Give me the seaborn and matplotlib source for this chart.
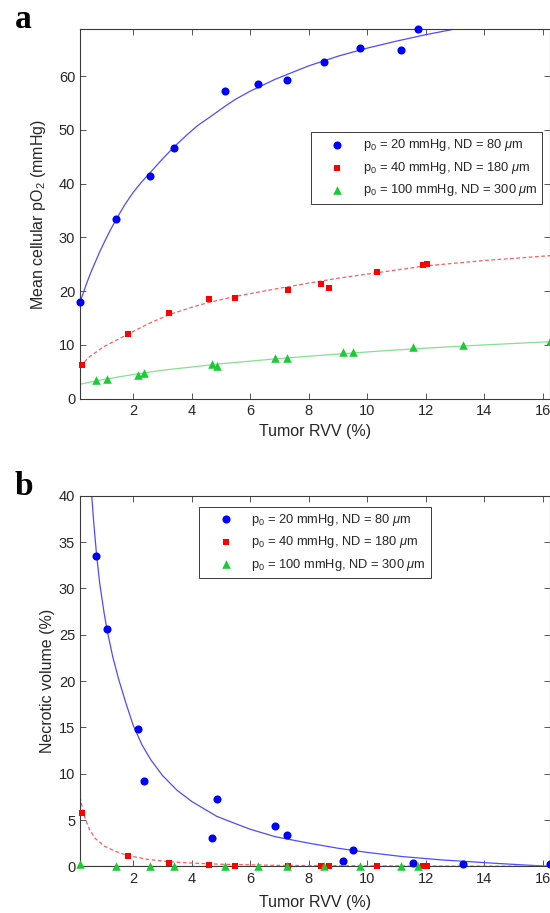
import matplotlib
matplotlib.use("Agg")
import matplotlib.pyplot as plt
import seaborn as sns

# ---- measured data -------------------------------------------------------
# RVV sample sets (tumor relative vascular volume, %)
rvv_set1 = [0.18, 1.41, 2.57, 3.39, 5.14, 6.28, 7.25, 8.53, 9.76, 11.16, 11.75]
rvv_set2 = [0.26, 1.82, 3.21, 4.58, 5.47, 7.28, 8.43, 8.70, 10.34, 11.90, 12.03]
rvv_set3 = [0.74, 1.11, 2.17, 2.38, 4.70, 4.85, 6.85, 7.25, 9.16, 9.51, 11.58, 13.29, 16.25]

# (a) mean cellular pO2 (mmHg)
po2_p20 = [18.0, 33.4, 41.4, 46.7, 57.3, 58.6, 59.3, 62.6, 65.2, 64.8, 68.7]
po2_p40 = [6.3, 12.0, 15.9, 18.5, 18.8, 20.3, 21.4, 20.5, 23.5, 24.9, 25.1]
po2_p100 = [3.5, 3.7, 4.5, 4.7, 6.4, 6.1, 7.5, 7.5, 8.6, 8.6, 9.7, 10.0, 10.7]

# (b) necrotic volume (%)
nec_p20 = [33.5, 25.6, 14.8, 9.2, 3.1, 7.3, 4.4, 3.4, 0.6, 1.8, 0.4, 0.3, 0.25]
nec_p40 = [5.8, 1.1, 0.4, 0.1, 0.0, 0.0, 0.0, 0.0, 0.0, 0.0, 0.0]
nec_p100 = [0.3, 0.0, 0.0, 0.0, 0.0, 0.0, 0.0, 0.0, 0.0, 0.0, 0.0]

# fitted trend curves
fit_a_p20_x = [0.18, 0.3, 0.4, 0.55, 0.7, 0.85, 1.0, 1.2, 1.41, 1.7, 2.0, 2.3, 2.57,
               3.0, 3.39, 3.8, 4.2, 4.6, 5.14, 5.5, 6.0, 6.85, 7.4, 8.0, 9.0, 10.0,
               11.0, 12.0, 12.95, 14.0]
fit_a_p20_y = [18.0, 19.8, 21.4, 23.5, 25.4, 27.3, 29.0, 31.2, 33.3, 36.0, 38.4, 40.4,
               42.0, 44.6, 46.8, 48.9, 50.8, 52.3, 54.4, 55.7, 57.2, 59.4, 60.6, 61.9,
               63.7, 65.2, 66.5, 67.7, 68.7, 69.7]
fit_a_p40_x = [0.18, 0.5, 1.0, 1.82, 2.5, 3.21, 4.0, 4.58, 5.47, 6.85, 8.0, 9.0,
               10.3, 12.0, 14.0, 16.25]
fit_a_p40_y = [6.0, 7.8, 9.7, 12.0, 13.9, 15.6, 17.0, 17.9, 19.0, 20.4, 21.5, 22.4,
               23.4, 24.7, 25.7, 26.6]
fit_a_p100_x = [0.18, 1.0, 2.0, 3.0, 4.0, 5.0, 6.85, 8.0, 10.27, 12.0, 14.0, 16.25]
fit_a_p100_y = [2.7, 3.6, 4.5, 5.3, 5.9, 6.5, 7.4, 7.9, 8.8, 9.4, 10.0, 10.6]

fit_b_p20_x = [0.55, 0.58, 0.65, 0.74, 0.85, 1.0, 1.11, 1.3, 1.5, 1.75, 2.0, 2.3, 2.6,
               3.0, 3.5, 4.0, 4.85, 5.5, 6.0, 6.85, 8.0, 9.0, 10.0, 11.2, 12.5, 13.5,
               14.5, 15.5, 16.25]
fit_b_p20_y = [42.5, 40.0, 37.0, 33.8, 30.6, 27.4, 25.4, 22.6, 20.2, 17.6, 15.2, 13.1,
               11.5, 9.8, 8.2, 7.0, 5.4, 4.6, 4.0, 3.2, 2.5, 1.95, 1.5, 1.05, 0.7, 0.5,
               0.3, 0.12, 0.0]
fit_b_p40_x = [0.18, 0.26, 0.35, 0.5, 0.7, 1.0, 1.4, 1.82, 2.5, 3.2, 4.0, 5.0, 7.0,
               10.0, 13.0, 16.25]
fit_b_p40_y = [7.5, 6.3, 5.2, 4.0, 3.0, 2.2, 1.6, 1.15, 0.75, 0.5, 0.35, 0.22, 0.1,
               0.05, 0.02, 0.0]
fit_b_p100_x = [0.18, 16.25]
fit_b_p100_y = [0.0, 0.0]

labels = [r"p$_0$ = 20 mmHg, ND = 80 $\mu$m",
          r"p$_0$ = 40 mmHg, ND = 180 $\mu$m",
          r"p$_0$ = 100 mmHg, ND = 300 $\mu$m"]
x_ticks = [2, 4, 6, 8, 10, 12, 14, 16]

# ---- style ---------------------------------------------------------------
sns.set_theme(style="ticks")
plt.rcParams["font.family"] = ["Liberation Sans", "DejaVu Sans"]
plt.rcParams["mathtext.fontset"] = "custom"
plt.rcParams["mathtext.rm"] = "Liberation Sans"
plt.rcParams["mathtext.it"] = "Liberation Sans:italic"
plt.rcParams["mathtext.bf"] = "Liberation Sans:bold"

AX_COL = "#3a3a3a"
TXT_COL = "#262626"
C_BLUE, C_RED, C_GREEN = "#0000ff", "#ff0000", "#1acc33"
L_BLUE, L_RED, L_GREEN = "#4c4cff", "#ff5c5c", "#86e08f"

fig = plt.figure(figsize=(5.5, 9.13), dpi=100)
ax_a = fig.add_axes([80 / 550, (913 - 398.7) / 913, 470 / 550, 369.4 / 913])
ax_b = fig.add_axes([80 / 550, (913 - 866.3) / 913, 470 / 550, 370.4 / 913])


def draw_panel(ax, xs, ys, fits, ylim, yticks, ylabel, ylab_x, xlab_y, leg_xy):
    fit_styles = [(L_BLUE, "-"), (L_RED, "--"), (L_GREEN, "-")]
    for (fx, fy), (col, ls) in zip(fits, fit_styles):
        sns.lineplot(x=fx, y=fy, ax=ax, sort=False, estimator=None, color=col,
                     linewidth=0.9, legend=False, zorder=2)
        line = ax.lines[-1]
        if ls == "--":
            line.set_dashes((3, 2))
    marker_specs = [("o", C_BLUE, 34), ("s", C_RED, 20), ("^", C_GREEN, 38)]
    for x, y, (mk, col, s), lab in zip(xs, ys, marker_specs, labels):
        sns.scatterplot(x=x, y=y, ax=ax, marker=mk, color=col, s=s, linewidth=0,
                        label=lab, clip_on=False, zorder=4)
    ax.set_xlim(0.178, 16.25)
    ax.set_ylim(*ylim)
    ax.set_xticks(x_ticks)
    ax.set_yticks(yticks)
    ax.tick_params(direction="in", top=True, right=True, length=4.5, width=0.6,
                   color=AX_COL, labelsize=10.5, labelcolor=TXT_COL)
    ax.tick_params(axis="x", pad=4)
    ax.tick_params(axis="y", pad=3.5)
    for sp in ax.spines.values():
        sp.set_color(AX_COL)
        sp.set_linewidth(0.8)
    ax.set_xlabel("Tumor RVV (%)", fontsize=11.5, color=TXT_COL)
    ax.set_ylabel(ylabel, fontsize=11.5, color=TXT_COL)
    ax.yaxis.set_label_coords(ylab_x, 0.5)
    ax.xaxis.set_label_coords(0.5, xlab_y)
    leg = ax.legend(loc="upper left", bbox_to_anchor=leg_xy,
                    bbox_transform=fig.transFigure, borderaxespad=0,
                    fontsize=9.3, frameon=True, fancybox=False, framealpha=1,
                    edgecolor=AX_COL, borderpad=0.4, labelspacing=0.5,
                    handlelength=3.3, handletextpad=0.3)
    leg.get_frame().set_linewidth(0.7)
    for t in leg.get_texts():
        t.set_color(TXT_COL)


draw_panel(ax_a,
           [rvv_set1, rvv_set2, rvv_set3],
           [po2_p20, po2_p40, po2_p100],
           [(fit_a_p20_x, fit_a_p20_y), (fit_a_p40_x, fit_a_p40_y),
            (fit_a_p100_x, fit_a_p100_y)],
           (0, 68.7), [0, 10, 20, 30, 40, 50, 60],
           r"Mean cellular pO$_2$ (mmHg)", -0.069, -0.068,
           (311 / 550, 1 - 132.3 / 913))

draw_panel(ax_b,
           [rvv_set3, rvv_set2, rvv_set1],
           [nec_p20, nec_p40, nec_p100],
           [(fit_b_p20_x, fit_b_p20_y), (fit_b_p40_x, fit_b_p40_y),
            (fit_b_p100_x, fit_b_p100_y)],
           (0, 40), [0, 5, 10, 15, 20, 25, 30, 35, 40],
           "Necrotic volume (%)", -0.053, -0.0775,
           (199.3 / 550, 1 - 506.7 / 913))

# panel letters
fig.text(15 / 550, 1 - 28 / 913, "a", fontsize=24, fontweight="bold",
         family="Liberation Serif", ha="left", va="baseline", color="black")
fig.text(15 / 550, 1 - 495 / 913, "b", fontsize=24, fontweight="bold",
         family="Liberation Serif", ha="left", va="baseline", color="black")

fig.savefig("out.png", dpi=100)
